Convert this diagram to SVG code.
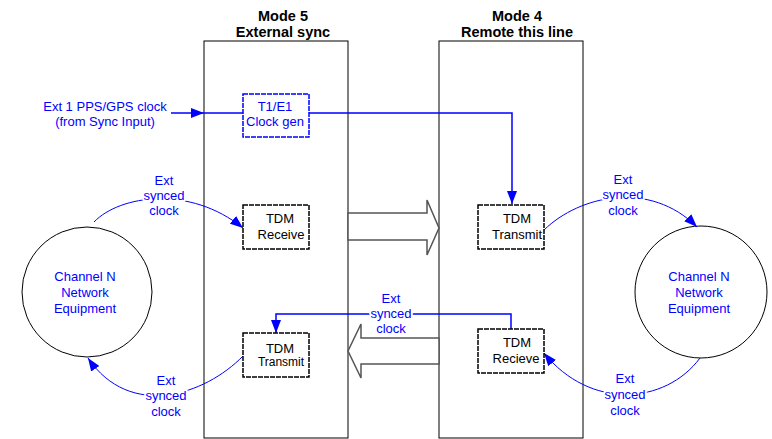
<svg xmlns="http://www.w3.org/2000/svg" width="772" height="439" viewBox="0 0 772 439">
  <style>
    text { font-family: "Liberation Sans", Arial, sans-serif; }
    .title { font-size: 14.5px; font-weight: bold; fill: #000; text-anchor: middle; }
    .lbl { font-size: 13px; fill: #0000ff; text-anchor: middle; }
    .halo { stroke: #fff; stroke-width: 4px; paint-order: stroke; stroke-linejoin: round; }
    .box-txt { font-size: 13px; fill: #000; text-anchor: middle; }
    .mode { fill: none; stroke: #000; stroke-width: 1; }
    .tdm { fill: #fff; stroke: #000; stroke-width: 1.5; stroke-dasharray: 5 1; }
    .gen { fill: #fff; stroke: #0000ff; stroke-width: 1.5; stroke-dasharray: 5 1; }
    .hollow { fill: #fff; stroke: #555; stroke-width: 1.5; }
    .link { fill: none; stroke: #0000ff; stroke-width: 1.5; }
    .curve { fill: none; stroke: #0000ff; stroke-width: 1; }
    .equip { fill: #fff; stroke: #000; stroke-width: 1; }
  </style>
  <defs>
    <marker id="arrow" markerUnits="userSpaceOnUse" markerWidth="13" markerHeight="10" refX="13" refY="5" orient="auto">
      <path d="M0,0 L13,5 L0,10 z" fill="#0000ff"/>
    </marker>
  </defs>

  <rect width="772" height="439" fill="#fff"/>

  <!-- mode panels -->
  <g id="mode5">
    <rect class="mode" x="204" y="41" width="144" height="397"/>
    <text class="title" x="283" y="21">Mode 5</text>
    <text class="title" x="283" y="37">External sync</text>
  </g>
  <g id="mode4">
    <rect class="mode" x="439" y="41" width="144" height="397"/>
    <text class="title" x="517" y="21">Mode 4</text>
    <text class="title" x="517" y="37">Remote this line</text>
  </g>

  <!-- data flow between the two sides -->
  <g id="data-forward">
    <polygon class="hollow" points="348,213 427,213 427,200 439,228 427,255 427,240 348,240"/>
  </g>
  <g id="data-return">
    <polygon class="hollow" points="439,338 361,338 361,324 348,351 361,378 361,364 439,364"/>
  </g>

  <!-- equipment -->
  <g id="equip-left">
    <circle class="equip" cx="87" cy="292" r="65"/>
    <text class="lbl" x="85" y="281">Channel N</text>
    <text class="lbl" x="85" y="297">Network</text>
    <text class="lbl" x="85" y="313">Equipment</text>
  </g>
  <g id="equip-right">
    <circle class="equip" cx="701" cy="292" r="66"/>
    <text class="lbl" x="699" y="281">Channel N</text>
    <text class="lbl" x="699" y="297">Network</text>
    <text class="lbl" x="699" y="313">Equipment</text>
  </g>

  <!-- connectors -->
  <g id="connectors">
    <line class="link" x1="171" y1="113" x2="204" y2="113" marker-end="url(#arrow)"/>
    <line class="link" x1="204" y1="113" x2="243" y2="113"/>
    <polyline class="link" points="309,113 512,113 512,204" marker-end="url(#arrow)"/>
    <polyline class="link" points="511,329 511,314 276,314 276,333" marker-end="url(#arrow)"/>
    <path class="curve" d="M94,222 C120,195 190,185 243,228" marker-end="url(#arrow)"/>
    <path class="curve" d="M544,230 C580,195 650,180 697,227" marker-end="url(#arrow)"/>
    <path class="curve" d="M243,356 C205,395 130,420 88,358" marker-end="url(#arrow)"/>
    <path class="curve" d="M700,358 C665,405 590,410 544,353" marker-end="url(#arrow)"/>
  </g>

  <!-- clock labels -->
  <g id="labels">
    <text class="lbl" x="105" y="111">Ext 1 PPS/GPS clock</text>
    <text class="lbl" x="105" y="126">(from Sync Input)</text>

    <text class="lbl halo" x="164" y="185">Ext</text>
    <text class="lbl halo" x="164" y="200">synced</text>
    <text class="lbl halo" x="164" y="215">clock</text>

    <text class="lbl halo" x="623" y="184">Ext</text>
    <text class="lbl halo" x="623" y="199">synced</text>
    <text class="lbl halo" x="623" y="215">clock</text>

    <text class="lbl halo" x="391" y="303">Ext</text>
    <text class="lbl halo" x="391" y="318">synced</text>
    <text class="lbl halo" x="391" y="333">clock</text>

    <text class="lbl halo" x="166" y="385">Ext</text>
    <text class="lbl halo" x="166" y="400">synced</text>
    <text class="lbl halo" x="166" y="416">clock</text>

    <text class="lbl halo" x="625" y="383">Ext</text>
    <text class="lbl halo" x="625" y="399">synced</text>
    <text class="lbl halo" x="625" y="415">clock</text>
  </g>

  <!-- function blocks -->
  <g id="clock-gen">
    <rect class="gen" x="243" y="94" width="66" height="43"/>
    <text class="lbl" x="275" y="111">T1/E1</text>
    <text class="lbl" x="275" y="126">Clock gen</text>
  </g>
  <g id="tdm-receive">
    <rect class="tdm" x="243" y="205" width="66" height="44"/>
    <text class="box-txt" x="280" y="223">TDM</text>
    <text class="box-txt" x="281" y="239">Receive</text>
  </g>
  <g id="tdm-transmit-left">
    <rect class="tdm" x="243" y="333" width="66" height="44"/>
    <text class="box-txt" x="280" y="353">TDM</text>
    <text class="box-txt" x="281" y="366" style="font-size:12px">Transmit</text>
  </g>
  <g id="tdm-transmit-right">
    <rect class="tdm" x="478" y="205" width="66" height="44"/>
    <text class="box-txt" x="517" y="223">TDM</text>
    <text class="box-txt" x="517" y="239">Transmit</text>
  </g>
  <g id="tdm-recieve">
    <rect class="tdm" x="478" y="329" width="66" height="44"/>
    <text class="box-txt" x="517" y="347">TDM</text>
    <text class="box-txt" x="516" y="363">Recieve</text>
  </g>
</svg>
